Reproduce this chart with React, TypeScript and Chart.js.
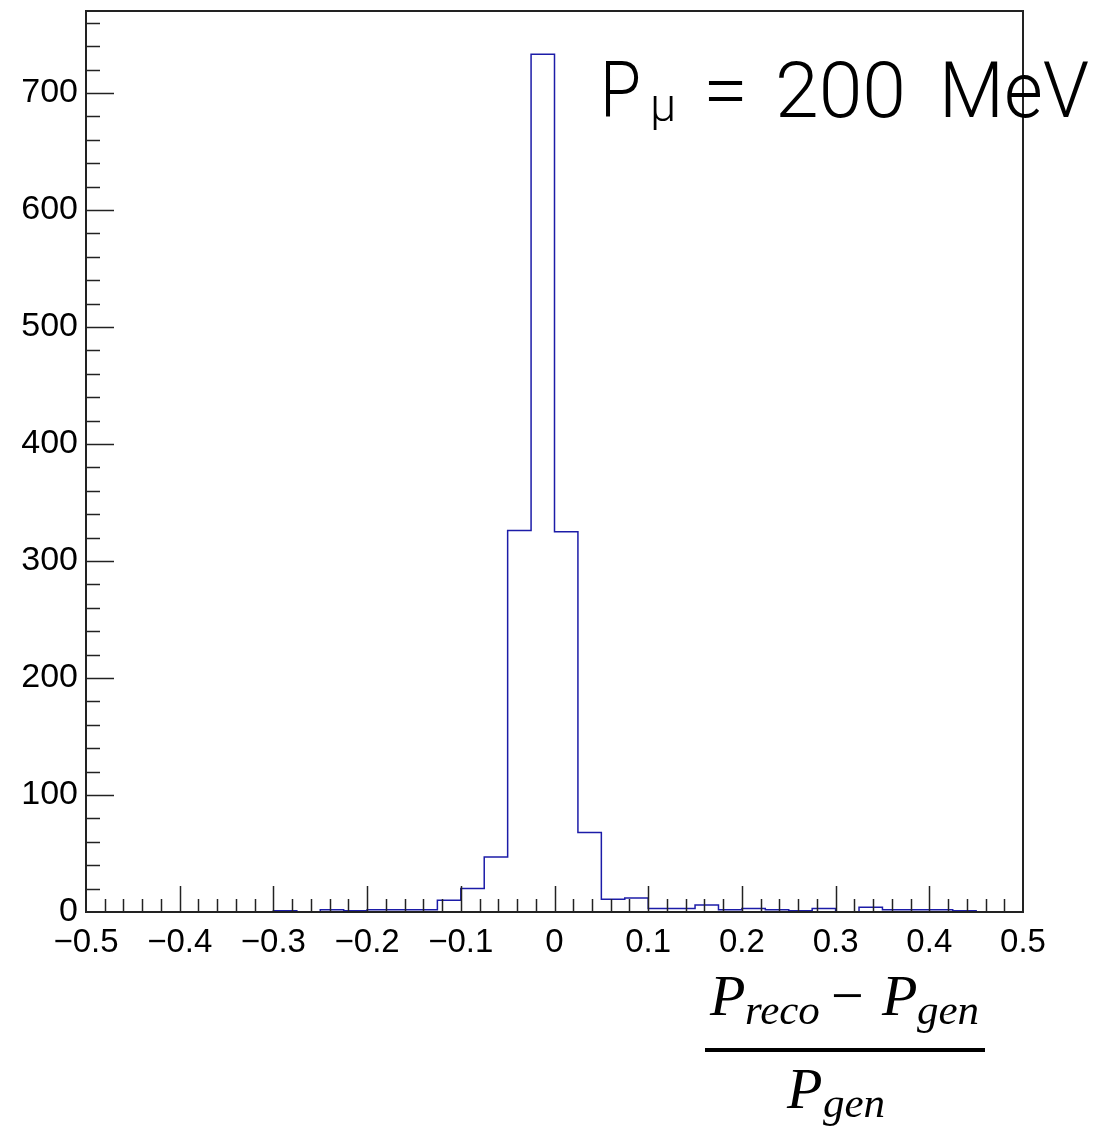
import React, { useEffect, useRef } from "react";
import { Chart, registerables } from "chart.js";

Chart.register(...registerables);

// Histogram binning (40 bins from -0.5 to 0.5)
const BIN_LOW = -0.5;
const BIN_WIDTH = 0.025;
const binCounts = [
  0, 0, 0, 0, 0, 0, 0, 0, 1, 0,
  2, 1, 2, 2, 2, 10, 20, 47, 326, 733,
  325, 68, 11, 12, 3, 3, 6, 2, 3, 2,
  1, 3, 0, 4, 2, 2, 2, 1, 0, 0,
];
const X_MIN = -0.5;
const X_MAX = 0.5;
const Y_MIN = 0;
const Y_MAX = 770;
const titleMain = "P";
const titleSub = "\u03bc";
const titleParts = ["=", "200", "MeV"];

const W = 1096;
const H = 1127;

const fmtX = (v: number) => {
  const s = (Math.abs(v) < 1e-9 ? 0 : v).toFixed(1);
  if (s === "0.0" || s === "-0.0") return "0";
  return s.replace("-", "\u2212");
};

const fitText = (ctx: any, text: string, x: number, y: number, width: number) => {
  const w = ctx.measureText(text).width;
  const k = Math.max(0.85, Math.min(1.2, width / w));
  ctx.save();
  ctx.translate(x, y);
  ctx.scale(k, 1);
  ctx.fillText(text, 0, 0);
  ctx.restore();
};

const decorPlugin = {
  id: "decor",
  afterDraw(chart: any) {
    const { ctx, chartArea, scales } = chart;
    const xs = scales.x;
    const ys = scales.y;
    ctx.save();
    ctx.strokeStyle = "#222";
    ctx.lineWidth = 1.5;
    for (let k = 1; k < 50; k++) {
      const v = X_MIN + k * 0.02;
      const px = Math.round(xs.getPixelForValue(v)) + 0.5;
      const len = k % 5 === 0 ? 26 : 13;
      ctx.beginPath();
      ctx.moveTo(px, chartArea.bottom);
      ctx.lineTo(px, chartArea.bottom - len);
      ctx.stroke();
    }
    for (let k = 1; k * 20 < Y_MAX; k++) {
      const v = k * 20;
      const py = Math.round(ys.getPixelForValue(v)) + 0.5;
      const len = k % 5 === 0 ? 28 : 14;
      ctx.beginPath();
      ctx.moveTo(chartArea.left, py);
      ctx.lineTo(chartArea.left + len, py);
      ctx.stroke();
    }
    ctx.lineWidth = 2;
    ctx.strokeRect(chartArea.left, chartArea.top, chartArea.right - chartArea.left, chartArea.bottom - chartArea.top);

    // title
    ctx.fillStyle = "#000";
    ctx.textBaseline = "alphabetic";
    ctx.textAlign = "left";
    const tFont = '300 77px Roboto, "Liberation Sans", sans-serif';
    ctx.font = tFont;
    fitText(ctx, titleMain, 600, 117, 41);
    ctx.font = '300 47px Roboto, "Liberation Sans", sans-serif';
    ctx.fillText(titleSub, 650, 121);
    ctx.font = tFont;
    fitText(ctx, titleParts[0], 703, 117, 45);
    fitText(ctx, titleParts[1], 775, 117, 131);
    fitText(ctx, titleParts[2], 939, 117, 150);

    // x-axis title (fraction)
    const big = 'italic 58px "Liberation Serif", serif';
    const small = 'italic 43px "Liberation Serif", serif';
    ctx.font = big;
    ctx.fillText("P", 710, 1015);
    ctx.font = small;
    ctx.fillText("reco", 745, 1024);
    ctx.font = '58px "Liberation Serif", serif';
    ctx.fillText("\u2212", 831, 1015);
    ctx.font = big;
    ctx.fillText("P", 882, 1015);
    ctx.font = small;
    ctx.fillText("gen", 917, 1024);
    ctx.fillRect(705, 1048, 280, 4);
    ctx.font = big;
    ctx.fillText("P", 787, 1108);
    ctx.font = small;
    ctx.fillText("gen", 823, 1117);
    ctx.restore();
  },
};

export default function App() {
  const ref = useRef<HTMLCanvasElement | null>(null);
  useEffect(() => {
    if (!ref.current) return;
    const points = binCounts.map((c, i) => ({ x: BIN_LOW + i * BIN_WIDTH, y: c }));
    points.push({ x: BIN_LOW + binCounts.length * BIN_WIDTH, y: binCounts[binCounts.length - 1] });
    const chart = new Chart(ref.current, {
      type: "line",
      data: {
        datasets: [
          {
            data: points,
            stepped: "before",
            borderColor: "#1c1ca8",
            borderWidth: 1.5,
            pointRadius: 0,
            fill: false,
          },
        ],
      },
      options: {
        responsive: false,
        animation: false,
        layout: { padding: { left: 0, top: 11, right: W - 1023, bottom: 0 } },
        plugins: { legend: { display: false }, tooltip: { enabled: false } },
        scales: {
          x: {
            type: "linear",
            min: X_MIN,
            max: X_MAX,
            grid: { display: false },
            border: { display: false },
            afterFit: (s: any) => {
              s.height = H - 912;
              s.paddingLeft = 0;
              s.paddingRight = 0;
            },
            ticks: {
              stepSize: 0.1,
              autoSkip: false,
              maxRotation: 0,
              includeBounds: false,
              padding: 3,
              color: "#000",
              font: { family: '"Liberation Sans", Arial, sans-serif', size: 33 },
              callback: (v: any) => fmtX(Number(v)),
            },
          },
          y: {
            type: "linear",
            min: Y_MIN,
            max: Y_MAX,
            grid: { display: false },
            border: { display: false },
            afterFit: (s: any) => {
              s.width = 86;
              s.paddingTop = 0;
              s.paddingBottom = 0;
            },
            ticks: {
              stepSize: 100,
              includeBounds: false,
              padding: 0,
              color: "#000",
              font: { family: '"Liberation Sans", Arial, sans-serif', size: 34 },
              callback: (v: any) => String(Math.round(Number(v))),
            },
          },
        },
      },
      plugins: [decorPlugin],
    } as any);
    return () => chart.destroy();
  }, []);
  return (
    <div style={{ position: "absolute", left: 0, top: 0, width: W, height: H, background: "#fff" }}>
      <canvas ref={ref} width={W} height={H} style={{ display: "block", width: W, height: H }} />
    </div>
  );
}
